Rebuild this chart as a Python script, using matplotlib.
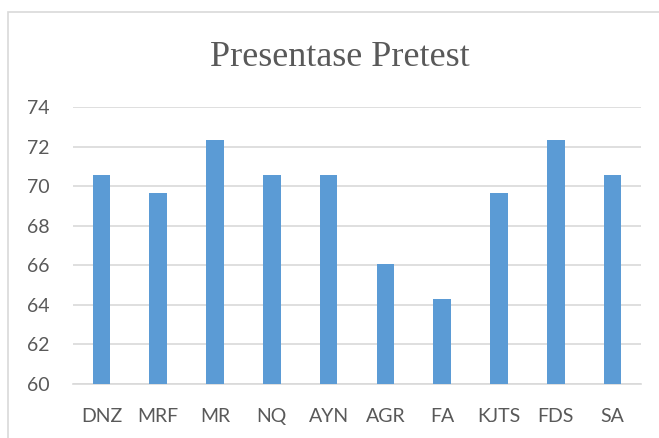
import matplotlib.pyplot as plt
from matplotlib.patches import Rectangle

names = ['DNZ', 'MRF', 'MR', 'NQ', 'AYN', 'AGR', 'FA', 'KJTS', 'FDS', 'SA']
scores = [70.54, 69.64, 72.32, 70.54, 70.54, 66.07, 64.29, 69.64, 72.32, 70.54]
y_ticks = [60, 62, 64, 66, 68, 70, 72, 74]

W, H = 659, 438
fig = plt.figure(figsize=(W / 100, H / 100), dpi=100)
ax = fig.add_axes([73 / W, 1 - 384 / H, (641 - 73) / W, (384 - 107) / H])

# chart frame like excel
fig.add_artist(Rectangle((8 / W, -0.5), 1.2, 1.5 - 12 / H, transform=fig.transFigure,
                         fill=False, edgecolor='#d9d9d9', lw=1.2))

x = range(len(names))
ax.bar(x, scores, width=0.31, color='#5b9bd5', zorder=3)
ax.set_xlim(-0.5, len(names) - 0.5)
ax.set_ylim(60, 74)
ax.set_yticks(y_ticks)
ax.set_xticks(list(x))
ax.set_xticklabels(names)

ax.grid(axis='y', color='#d9d9d9', lw=1.2, zorder=0)
for s in ['top', 'right', 'left']:
    ax.spines[s].set_visible(False)
ax.spines['bottom'].set_color('#d9d9d9')
ax.spines['bottom'].set_linewidth(1.2)
ax.tick_params(length=0, labelsize=14, labelcolor='#595959')
ax.tick_params(axis='x', pad=17)
ax.tick_params(axis='y', pad=17)
for lbl in ax.get_xticklabels() + ax.get_yticklabels():
    lbl.set_family(['Lato', 'DejaVu Sans'])

fig.text(339.5 / W, 1 - 66 / H, 'Presentase Pretest', ha='center', va='baseline',
         fontsize=26, color='#595959', family=['Liberation Serif', 'DejaVu Serif'])

fig.savefig('out.png', dpi=100)
